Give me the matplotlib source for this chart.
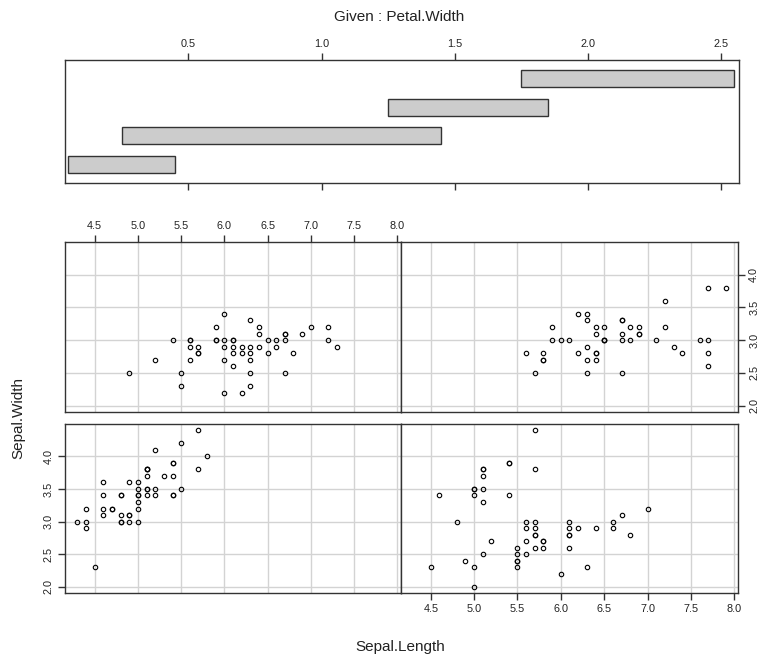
import matplotlib
matplotlib.use('Agg')
import matplotlib.pyplot as plt
from matplotlib.patches import Rectangle

plt.rcParams['font.family'] = ['Liberation Sans', 'DejaVu Sans']

# iris data (Sepal.Length, Sepal.Width, Petal.Width)
sepal_length = [5.1, 4.9, 4.7, 4.6, 5.0, 5.4, 4.6, 5.0, 4.4, 4.9, 5.4, 4.8, 4.8, 4.3, 5.8, 5.7, 5.4, 5.1, 5.7, 5.1,
                5.4, 5.1, 4.6, 5.1, 4.8, 5.0, 5.0, 5.2, 5.2, 4.7, 4.8, 5.4, 5.2, 5.5, 4.9, 5.0, 5.5, 4.9, 4.4, 5.1,
                5.0, 4.5, 4.4, 5.0, 5.1, 4.8, 5.1, 4.6, 5.3, 5.0,
                7.0, 6.4, 6.9, 5.5, 6.5, 5.7, 6.3, 4.9, 6.6, 5.2, 5.0, 5.9, 6.0, 6.1, 5.6, 6.7, 5.6, 5.8, 6.2, 5.6,
                5.9, 6.1, 6.3, 6.1, 6.4, 6.6, 6.8, 6.7, 6.0, 5.7, 5.5, 5.5, 5.8, 6.0, 5.4, 6.0, 6.7, 6.3, 5.6, 5.5,
                5.5, 6.1, 5.8, 5.0, 5.6, 5.7, 5.7, 6.2, 5.1, 5.7,
                6.3, 5.8, 7.1, 6.3, 6.5, 7.6, 4.9, 7.3, 6.7, 7.2, 6.5, 6.4, 6.8, 5.7, 5.8, 6.4, 6.5, 7.7, 7.7, 6.0,
                6.9, 5.6, 7.7, 6.3, 6.7, 7.2, 6.2, 6.1, 6.4, 7.2, 7.4, 7.9, 6.4, 6.3, 6.1, 7.7, 6.3, 6.4, 6.0, 6.9,
                6.7, 6.9, 5.8, 6.8, 6.7, 6.7, 6.3, 6.5, 6.2, 5.9]
sepal_width = [3.5, 3.0, 3.2, 3.1, 3.6, 3.9, 3.4, 3.4, 2.9, 3.1, 3.7, 3.4, 3.0, 3.0, 4.0, 4.4, 3.9, 3.5, 3.8, 3.8,
               3.4, 3.7, 3.6, 3.3, 3.4, 3.0, 3.4, 3.5, 3.4, 3.2, 3.1, 3.4, 4.1, 4.2, 3.1, 3.2, 3.5, 3.6, 3.0, 3.4,
               3.5, 2.3, 3.2, 3.5, 3.8, 3.0, 3.8, 3.2, 3.7, 3.3,
               3.2, 3.2, 3.1, 2.3, 2.8, 2.8, 3.3, 2.4, 2.9, 2.7, 2.0, 3.0, 2.2, 2.9, 2.9, 3.1, 3.0, 2.7, 2.2, 2.5,
               3.2, 2.8, 2.5, 2.8, 2.9, 3.0, 2.8, 3.0, 2.9, 2.6, 2.4, 2.4, 2.7, 2.7, 3.0, 3.4, 3.1, 2.3, 3.0, 2.5,
               2.6, 3.0, 2.6, 2.3, 2.7, 3.0, 2.9, 2.9, 2.5, 2.8,
               3.3, 2.7, 3.0, 2.9, 3.0, 3.0, 2.5, 2.9, 2.5, 3.6, 3.2, 2.7, 3.0, 2.5, 2.8, 3.2, 3.0, 3.8, 2.6, 2.2,
               3.2, 2.8, 2.8, 2.7, 3.3, 3.2, 2.8, 3.0, 2.8, 3.0, 2.8, 3.8, 2.8, 2.8, 2.6, 3.0, 3.4, 3.1, 3.0, 3.1,
               3.1, 3.1, 2.7, 3.2, 3.3, 3.0, 2.5, 3.0, 3.4, 3.0]
petal_width = [0.2, 0.2, 0.2, 0.2, 0.2, 0.4, 0.3, 0.2, 0.2, 0.1, 0.2, 0.2, 0.1, 0.1, 0.2, 0.4, 0.4, 0.3, 0.3, 0.3,
               0.2, 0.4, 0.2, 0.5, 0.2, 0.2, 0.4, 0.2, 0.2, 0.2, 0.2, 0.4, 0.1, 0.2, 0.2, 0.2, 0.2, 0.1, 0.2, 0.2,
               0.3, 0.3, 0.2, 0.6, 0.4, 0.3, 0.2, 0.2, 0.2, 0.2,
               1.4, 1.5, 1.5, 1.3, 1.5, 1.3, 1.6, 1.0, 1.3, 1.4, 1.0, 1.5, 1.0, 1.4, 1.3, 1.4, 1.5, 1.0, 1.5, 1.1,
               1.8, 1.3, 1.5, 1.2, 1.3, 1.4, 1.4, 1.7, 1.5, 1.0, 1.1, 1.0, 1.2, 1.6, 1.5, 1.6, 1.5, 1.3, 1.3, 1.3,
               1.2, 1.4, 1.2, 1.0, 1.3, 1.2, 1.3, 1.3, 1.1, 1.3,
               2.5, 1.9, 2.1, 1.8, 2.2, 2.1, 1.7, 1.8, 1.8, 2.5, 2.0, 1.9, 2.1, 2.0, 2.4, 2.3, 1.8, 2.2, 2.3, 1.5,
               2.3, 2.0, 2.0, 1.8, 2.1, 1.8, 1.8, 1.8, 2.1, 1.6, 1.9, 2.0, 2.2, 1.5, 1.4, 2.3, 2.4, 1.8, 1.8, 2.1,
               2.4, 2.3, 1.9, 2.3, 2.5, 2.3, 1.9, 2.0, 2.3, 1.8]

# given intervals for Petal.Width (co.intervals, 4 of them)
given_lo = [0.05, 0.25, 1.25, 1.75]
given_hi = [0.45, 1.45, 1.85, 2.55]

x_ticks = [4.5, 5.0, 5.5, 6.0, 6.5, 7.0, 7.5, 8.0]
y_ticks = [2.0, 2.5, 3.0, 3.5, 4.0]
given_ticks = [0.5, 1.0, 1.5, 2.0, 2.5]

W, H = 762, 658
frame_col = '#333333'
text_col = '#222222'


def px_axes(x0, y0, x1, y1):
    # pixel box (top-left origin) -> figure axes
    return fig.add_axes([x0 / W, 1 - y1 / H, (x1 - x0) / W, (y1 - y0) / H])


fig = plt.figure(figsize=(W / 100, H / 100), dpi=100)

# ---- given panel ----
gax = px_axes(65, 60, 739, 183)
for i, (lo, hi) in enumerate(zip(given_lo, given_hi)):
    gax.add_patch(Rectangle((lo, i + 1 - 0.3), hi - lo, 0.6, facecolor='#cccccc',
                            edgecolor=frame_col, linewidth=1))
gax.set_xlim(0.037, 2.567)
gax.set_ylim(0.34, 4.66)
gax.set_yticks([])
gax.set_xticks(given_ticks)
gax.set_xticklabels([f'{t:.1f}' for t in given_ticks])
gax.tick_params(axis='x', top=True, labeltop=True, bottom=True, labelbottom=False,
                direction='out', length=5, width=1, color=frame_col, labelsize=7.8,
                labelcolor=text_col, pad=3)
for s in gax.spines.values():
    s.set_color(frame_col)
    s.set_linewidth(1)
fig.text(399 / W, 1 - 17 / H, 'Given : Petal.Width', ha='center', va='center',
         fontsize=11, color=text_col)

# ---- scatter panels: panel 1 bottom-left, 2 bottom-right, 3 top-left, 4 top-right ----
boxes = [(65, 424, 401, 593), (401, 424, 738, 593),
         (65, 242, 401, 412), (401, 242, 738, 412)]

for k in range(4):
    ax = px_axes(*boxes[k])
    xs = [x for x, p in zip(sepal_length, petal_width) if given_lo[k] <= p <= given_hi[k]]
    ys = [y for y, p in zip(sepal_width, petal_width) if given_lo[k] <= p <= given_hi[k]]
    ax.plot(xs, ys, linestyle='none', marker='o', markersize=3.2, markerfacecolor='none',
            markeredgecolor='black', markeredgewidth=0.8, zorder=3)
    ax.set_xlim(4.156, 8.044)
    ax.set_ylim(1.904, 4.496)
    ax.set_xticks(x_ticks)
    ax.set_yticks(y_ticks)
    ax.set_xticklabels([f'{t:.1f}' for t in x_ticks])
    ax.set_yticklabels([f'{t:.1f}' for t in y_ticks])
    ax.grid(True, color='#d3d3d3', linewidth=1)
    ax.set_axisbelow(True)
    ax.tick_params(axis='both', bottom=False, top=False, left=False, right=False,
                   labelbottom=False, labeltop=False, labelleft=False, labelright=False,
                   direction='out', length=5, width=1, color=frame_col, labelsize=7.8,
                   labelcolor=text_col, pad=3)
    if k == 1:
        ax.tick_params(axis='x', bottom=True, labelbottom=True)
    if k == 2:
        ax.tick_params(axis='x', top=True, labeltop=True)
    if k == 0:
        ax.tick_params(axis='y', left=True, labelleft=True, labelrotation=90)
        for lab in ax.get_yticklabels():
            lab.set_va('center')
    if k == 3:
        ax.tick_params(axis='y', right=True, labelright=True, labelrotation=90)
        for lab in ax.get_yticklabels():
            lab.set_va('center')
    for s in ax.spines.values():
        s.set_color(frame_col)
        s.set_linewidth(1)

fig.text(400 / W, 1 - 647 / H, 'Sepal.Length', ha='center', va='center',
         fontsize=11, color=text_col)
fig.text(18 / W, 1 - 418 / H, 'Sepal.Width', ha='center', va='center',
         rotation=90, fontsize=11, color=text_col)

fig.savefig('out.png', dpi=100)
